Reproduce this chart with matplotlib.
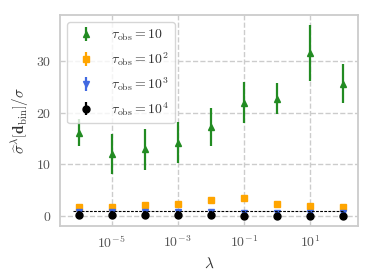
import matplotlib
matplotlib.use("Agg")
import matplotlib.pyplot as plt
import numpy as np

plt.rcParams['mathtext.fontset'] = 'cm'
plt.rcParams['font.family'] = 'serif'
plt.rcParams['font.serif'] = ['cmr10', 'DejaVu Serif']
plt.rcParams['axes.formatter.use_mathtext'] = True

lambdas = [1e-6, 1e-5, 1e-4, 1e-3, 1e-2, 1e-1, 1e0, 1e1, 1e2]

tau10_val = [16.1, 12.0, 12.9, 14.2, 17.2, 21.9, 22.7, 31.5, 25.6]
tau10_err = [2.6, 3.8, 4.0, 3.9, 3.7, 3.9, 3.0, 5.4, 3.8]

tau100_val = [1.8, 1.75, 2.1, 2.3, 3.1, 3.5, 2.25, 1.95, 1.7]
tau100_err = [0.15, 0.15, 0.15, 0.15, 0.2, 0.2, 0.15, 0.15, 0.15]

tau1000_val = [0.75, 0.75, 0.75, 0.75, 0.7, 0.6, 0.6, 0.65, 0.6]
tau1000_err = [0.05, 0.05, 0.05, 0.05, 0.05, 0.05, 0.05, 0.05, 0.05]

tau10000_val = [0.2, 0.2, 0.2, 0.2, 0.2, 0.0, 0.0, 0.0, 0.0]
tau10000_err = [0.03, 0.03, 0.03, 0.03, 0.03, 0.03, 0.03, 0.03, 0.03]

labels = [r'$\tau_{\rm obs} = 10$', r'$\tau_{\rm obs} = 10^2$',
          r'$\tau_{\rm obs} = 10^3$', r'$\tau_{\rm obs} = 10^4$']

fig = plt.figure(figsize=(3.74, 2.8), dpi=100)
ax = fig.add_axes([0.16, 0.193, 0.797, 0.753])

ax.errorbar(lambdas, tau10_val, yerr=tau10_err, fmt='^', color='#228b22',
            ms=4, elinewidth=1.6, capsize=0, label=labels[0], zorder=3)
ax.errorbar(lambdas, tau100_val, yerr=tau100_err, fmt='s', color='#ffa500',
            ms=5, elinewidth=1.6, capsize=0, label=labels[1], zorder=3)
ax.errorbar(lambdas, tau1000_val, yerr=tau1000_err, fmt='v', color='#4169e1',
            ms=4, elinewidth=1.6, capsize=0, label=labels[2], zorder=3)
ax.errorbar(lambdas, tau10000_val, yerr=tau10000_err, fmt='o', color='black',
            ms=5, elinewidth=1.6, capsize=0, label=labels[3], zorder=4)

ax.hlines(1.0, 7e-7, 1.1e2, colors='black', linestyles=(0, (2.5, 1.2)), lw=0.8, zorder=5)

ax.set_xscale('log')
ax.set_xticks([1e-5, 1e-3, 1e-1, 1e1])
ax.minorticks_off()
ax.set_yticks([0, 10, 20, 30])
ax.set_ylim(-1.9, 38.8)

ax.grid(True, linestyle='--', color='#cccccc', lw=1.0)
ax.set_axisbelow(True)
for s in ax.spines.values():
    s.set_color('#cccccc')
    s.set_linewidth(1.3)
ax.tick_params(colors='#555555', labelsize=10, length=0, pad=6)
for t in ax.get_xticklabels() + ax.get_yticklabels():
    t.set_color('#555555')

ax.set_xlabel(r'$\lambda$', fontsize=11, color='#333333')
ax.set_ylabel(r'$\widehat{\sigma}^\lambda\left[\mathbf{d}_{\rm bin}\right]/\sigma$',
              fontsize=11, color='#333333')

leg = ax.legend(loc='upper left', fontsize=10, frameon=True, edgecolor='#cccccc',
                borderaxespad=0.5)
for t in leg.get_texts():
    t.set_color('#333333')

fig.savefig('out.png', dpi=100)
